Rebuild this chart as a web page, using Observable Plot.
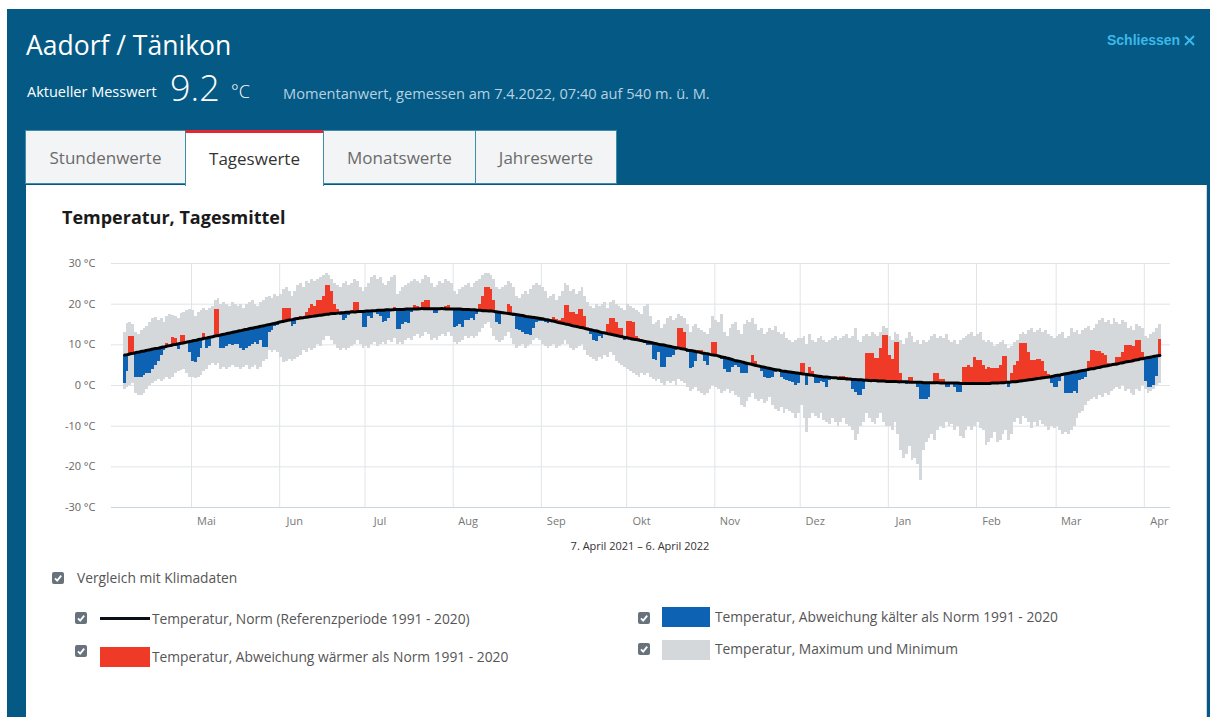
<!DOCTYPE html>
<html><head><meta charset="utf-8">
<script src="https://cdn.jsdelivr.net/npm/d3@7"></script>
<script src="https://cdn.jsdelivr.net/npm/@observablehq/plot@0.6"></script>
<style>
html,body{margin:0;padding:0}
body{width:1210px;height:717px;overflow:hidden;background:#fff;font-family:"Open Sans","Noto Sans",sans-serif;position:relative}
.abs{position:absolute;white-space:nowrap}
#frame{left:7px;top:9px;width:1203px;height:708px;background:#045a84}
#title{left:26px;top:27px;font-size:26.5px;color:#fff}
#lbl{left:27px;top:82px;font-size:14.5px;color:#fff}
#val{left:170px;top:63px;font-size:36px;font-weight:300;color:#fff}
#unit{left:231px;top:79px;font-size:18px;font-weight:300;color:#fff}
#info{left:283px;top:83px;font-size:14.6px;color:#b6d1e0}
#close{left:1107px;top:32px;font-size:14px;font-weight:bold;color:#3cb8ea;font-family:"Liberation Sans",Arial,sans-serif}
.tab{top:130px;height:54px;border:1px solid #3e8ea8;background:#f2f4f5;font-size:17px;color:#6b6b6b;text-align:center;line-height:54px;box-sizing:border-box}
#panel{left:26px;top:185px;width:1180px;height:532px;background:#fff;border-right:1px solid #cfd8de}
#ctitle{left:62px;top:205px;font-size:18px;font-weight:bold;color:#1a1a1a}
#chart{left:26px;top:250px}
#caption{left:540px;top:538px;width:200px;text-align:center;font-size:11px;color:#333}
.leg{font-size:13.8px;color:#555}
</style></head><body>
<div id="frame" class="abs"></div>
<div id="title" class="abs">Aadorf / Tänikon</div>
<div id="lbl" class="abs">Aktueller Messwert</div>
<div id="val" class="abs">9.2</div>
<div id="unit" class="abs">°C</div>
<div id="info" class="abs">Momentanwert, gemessen am 7.4.2022, 07:40 auf 540 m. ü. M.</div>
<div id="close" class="abs">Schliessen <svg width="11" height="11" style="vertical-align:-1px"><path d="M1 1L10 10M10 1L1 10" stroke="#3cb8ea" stroke-width="2"/></svg></div>
<div id="panel" class="abs"></div>
<div class="abs tab" style="left:25px;width:161px;">Stundenwerte</div>
<div class="abs tab" style="left:185px;width:139px;height:56px;background:#fff;border-bottom:none;border-top:3px solid #e3262f;color:#333;line-height:52px;">Tageswerte</div>
<div class="abs tab" style="left:323px;width:153px;">Monatswerte</div>
<div class="abs tab" style="left:475px;width:142px;">Jahreswerte</div>
<div id="ctitle" class="abs">Temperatur, Tagesmittel</div>
<div id="chart" class="abs"></div>
<div id="caption" class="abs">7. April 2021 – 6. April 2022</div>
<div id="legend"></div>
<script>
// ---------- data (°C), one value per day, 7 April 2021 – 6 April 2022 ----------
const firstDay = "2021-04-07";
const monthTicks = ["2021-05-01","2021-06-01","2021-07-01","2021-08-01","2021-09-01","2021-10-01","2021-11-01","2021-12-01","2022-01-01","2022-02-01","2022-03-01","2022-04-01"];
const monthLabels = ["Mai","Jun","Jul","Aug","Sep","Okt","Nov","Dez","Jan","Feb","Mar","Apr"];
const yTicks = [-30,-20,-10,0,10,20,30];

const dayMean = [
 0.6,3.5,12,12,2,2,2,2.5,3,3,4,5,6,7.5,8.5,10.3,9.5,11.7,11.5,8.8,12.4,12.2,10.5,8,
 6,5.7,7,9,12.7,9,9.5,12,18.6,18.6,9,9,9.5,10,9.8,10,10.2,9,8.6,9,9.6,10,10.5,10,11,9.4,9.4,13,13.5,14.5,14.8,
 15.2,19,19,19,14.5,15,16.5,17,16.6,18,19,20,19.5,21,21,22,24.5,24.6,23,20,18.8,17.2,16,16.5,17.3,18.5,20.5,20.5,18.2,14.3,
 14.3,17,16.5,18.5,17.5,17,15.6,15.8,16.5,18.6,19.2,13.7,13.8,15,15.5,15.3,18,19.7,19.5,18.8,20.5,21,20.8,18.5,17.6,17.8,18.5,19,19.5,19.6,18.9,
 14.2,14.5,15,14.2,16,16,16.5,16,17.5,20,22,24,24,23.5,21,15.5,15,17.5,18,20,19.5,17,13.8,13.5,13,12.5,12.5,12.3,14,15.5,15.8,
 15.8,15.6,15.3,16.2,16.6,16.2,16,16.4,19.7,19.7,18,18,17.5,18.8,18.8,17,14.3,12.5,11,10.9,12,11.5,12.5,15,16.4,16.4,15.5,13.9,13.9,11,
 15.8,15.8,15.5,12,11.5,10.5,10.5,9.8,9.8,6.5,6.1,8,4.5,4.5,7,7,7.5,8.5,13.9,13.9,13,8,4.1,4.5,6,8.6,8.5,6,4.9,7.5,10.6,
 10.6,7,6.5,4,3.3,3.3,4.5,5,4.4,2.9,2.9,3,5,7.4,6,4.6,3.5,2,1.8,1.6,2,3.2,3.8,2,1.5,1.2,1,0.8,0,0.5,
 5.5,5.5,0,4.5,3.5,0.4,0.4,1,0.8,-0.6,1.2,2,1.5,1.3,2.2,2.2,2.0,1.6,-1,-1.6,-2.5,-2.5,-1,7.8,7.8,7.8,6.6,6.6,9,12.3,12.3,
 7.5,6.5,10.6,10.6,3,1,0.3,2,2,0.8,-0.5,-3.5,-3.5,-3.5,-3,0.5,3,3,1.5,1.5,-0.4,-0.4,0.2,-0.4,-1.6,-1.6,4.5,4.5,5,4.5,7,
 6.1,6.1,5,4,4.5,4.3,4.3,4.3,5,7.1,7.1,-0.6,3,5,6,10.4,10.4,10.4,8,6.1,6.1,6.5,6.5,6,3.5,2.8,0.5,-0.4,
 -0.4,1,2.1,-2,-2,-2,-1.5,-2,1.2,1.5,2,6,8.6,8.6,8.4,8.3,7.8,7.5,5.5,5,5.5,7,7,8,9.8,9.8,9.8,9.5,11,11,8,
 1,-0.6,-0.6,0,2.1,11.4
];
const dayMax = [
 13,15.3,15.5,15,13,12.5,13.5,14,14.5,15.5,16.5,16.8,16,16.5,15.5,17,17.5,17.2,17,16.5,17.8,18,18.4,18.6,
 18.5,17,18,18.5,19,18.5,19,19.5,21,21.5,20,20.5,20,19.5,20.5,20,19.5,20,19,20,20.5,21,20,19.5,20.5,21,21.7,22,21.5,22.5,22,
 22.5,23.5,24,23,22,23,24.5,25,24,25.5,25,26,25.5,26,26.5,27,27.5,27,26,25,24.5,24,25,25.5,24.5,25,26,25.5,24,23,
 24,25,26.5,27,26,26.5,25,24.5,25.5,26.5,27,22.5,23,24,24.5,25,25.5,26,25.5,25,26,27,26.5,25,24,24.5,25.5,25,26,25.5,25,
 23,22.5,23.5,24,24.5,25,24,25,25.5,26,27,27.5,27.5,27,26,24,23.5,24,24.5,25.5,25,24,22,21.5,22.5,23,22.5,23.5,24.5,25,24.5,
 24,23,21.5,22,22.5,21,22,23,25,24.5,23,23.5,22.5,23,24,22,20.5,19.5,19,20,19.5,20,20.5,19,20.5,21,20,19.5,19,18.5,
 20,19.5,19,18.5,18,17.5,19.5,20,17,15,15.5,16,14,15,16.5,17,16,16.5,17.5,17,16.5,15,13,14.5,15,14,13.5,13,12.5,14,17,
 16,15.5,17.5,13,12,14,15,15.5,13.5,12.5,15,16,15.5,16.5,15,13.5,14,12.5,13,14,13.5,14.5,13,12.5,13,11.5,11,10.5,11,11.5,
 11.5,12,10,12.5,11,10.5,11.5,12,11,10.5,11,11.5,12,11,11.5,12,12.5,11.5,12,14,11,10.5,12,12.5,12,13,12.5,12,13,14.5,14,
 12,11,13,12.5,11,10,11.5,13,12,10.5,11,10,11,10.5,11,12,12.5,11.5,12,11.5,12.5,11,10.5,11,10,11,11.5,12,12.5,13,12,
 12.5,13,11,10.5,11,10.5,9.5,10,10.5,11,10,9,9.5,10.5,11,12.5,13,12.5,13.5,14,13,13.5,14,13,13.5,12.5,12,11.5,
 12,12.5,13,11.5,12,14,13,13.5,12.5,13.5,14,14.5,13.5,14,15,16,16.5,15.5,16,15,16.5,15.5,15,16,15.5,14,14.5,13.5,15,14.5,14,
 12,11.5,12.5,13,14,15
];
const dayMin = [
 -1,-0.5,0,0.5,-2,-2.5,-2.5,-2,-1,0,0.5,1,1.5,1,1.5,2,1.5,2,3,3.5,3.7,4,3,2,
 2,1.6,2,2.5,3.5,4,5,5.5,5,5.5,4,4.5,4,4.5,5,4.5,4.5,4,4.5,5,4,4.5,5,4,4.5,6,6.5,8.5,8,8.5,8,
 7,5.7,6,6.5,6,6.5,7,7.5,8.5,8,9,8.5,9,10,9.5,11,12,12,11,10,9,8.6,9,8.5,9,9.5,10,11,10,9,
 9.5,9,10,10.5,9.5,10,10.5,10,11,10.5,11.5,10,10.5,10,11,11.5,11,12,12.5,11.5,12,13,12.5,11,11.5,11,12,12.5,12,13,12,
 10.5,10,10.5,11,12,11.5,12,11.5,12,13,14,15,15.5,14,12,11,10.5,11,12,13,11.5,10,9,9.5,10,9,9.5,10,11,11.5,11,
 10,9.5,9,9.5,10,9,9.5,10,11,10,9,8.5,9,9.5,10,8.5,7.5,7,6.5,6,7,6.5,7.5,7,8,7.5,6,5.5,5,4.5,
 4,3.5,3,2.5,2,3,2.5,3,2,1.5,1,1.5,0.5,0,1,0.5,1,0,1.5,1,0.5,-0.5,-1.5,-1,-0.5,-1.5,-2,-2.5,-2,-1,0,
 -0.5,-1,-2,-1.5,-1,-2,-1.5,-2.5,-3,-5,-5.5,-4,-3,-2,-3.5,-4,-3.5,-4.5,-4,-3,-5,-6,-6.5,-5.5,-7,-6,-6.5,-7,-8,-7,
 -5,-8,-11.5,-8,-7,-7.5,-8,-7,-8.5,-9,-9.5,-8,-9,-10,-9,-8,-9.5,-10,-11,-13.5,-12,-10,-9,-7,-8,-9,-9.5,-8,-7,-9,-10,
 -10,-11,-9,-12,-16,-18,-17,-15,-18.5,-18,-19.5,-23.3,-16,-14,-13,-12,-13.5,-11,-10,-10.5,-9,-10,-9.5,-11,-10,-12.5,-13,-11,-10,-11,-10,
 -9,-10.5,-11,-14.7,-14,-13,-11.5,-14,-13.5,-12,-11,-13.5,-12,-9,-8,-9.5,-7.5,-8,-9,-10.5,-9,-10,-8.5,-9.5,-10,-11,-10,-10.5,
 -10,-11,-12,-11.5,-12,-11,-10,-8,-7,-6.5,-5,-4,-3.5,-3,-3.5,-2.5,-3,-2,-2.5,-1.5,-1,-0.5,-1,0,-1.5,-1,-2,-2.5,-1,-1.5,0,
 -1,-2,-1.5,-1,0,0.5
];
const dayNorm = [
 7.5,7.6,7.8,7.9,8.1,8.2,8.4,8.5,8.7,8.8,9.0,9.1,9.2,9.4,9.5,9.7,9.8,10.0,10.1,10.3,10.4,10.5,10.7,10.8,
 11.0,11.1,11.3,11.4,11.6,11.7,11.9,12.0,12.2,12.3,12.5,12.6,12.8,12.9,13.1,13.2,13.4,13.5,13.7,13.8,14.0,14.1,14.3,14.4,14.6,14.7,14.9,15.0,15.2,15.3,15.5,
 15.7,15.8,16.0,16.1,16.2,16.4,16.5,16.6,16.7,16.8,16.9,17.0,17.1,17.2,17.3,17.4,17.5,17.6,17.7,17.7,17.8,17.9,17.9,18.0,18.0,18.1,18.1,18.2,18.2,18.2,
 18.3,18.3,18.4,18.4,18.5,18.5,18.5,18.6,18.6,18.6,18.7,18.7,18.7,18.7,18.8,18.8,18.8,18.8,18.8,18.9,18.9,18.9,18.9,18.9,18.9,18.9,18.9,18.9,18.8,18.8,18.8,
 18.8,18.8,18.8,18.7,18.7,18.7,18.6,18.6,18.5,18.5,18.4,18.4,18.3,18.3,18.2,18.1,18.0,17.9,17.8,17.7,17.6,17.5,17.4,17.3,17.2,17.0,16.9,16.8,16.7,16.6,16.5,
 16.4,16.2,16.1,15.9,15.8,15.6,15.4,15.3,15.1,15.0,14.8,14.6,14.5,14.3,14.2,14.0,13.8,13.7,13.5,13.4,13.2,13.0,12.9,12.7,12.6,12.4,12.3,12.1,12.0,11.8,
 11.7,11.5,11.4,11.3,11.1,11.0,10.8,10.7,10.6,10.4,10.3,10.1,10.0,9.9,9.7,9.6,9.4,9.3,9.2,9.0,8.9,8.7,8.6,8.5,8.3,8.2,8.0,7.9,7.8,7.6,7.5,
 7.4,7.2,7.0,6.9,6.7,6.5,6.3,6.1,6.0,5.8,5.6,5.4,5.3,5.1,4.9,4.8,4.6,4.5,4.3,4.2,4.0,3.9,3.8,3.6,3.5,3.4,3.3,3.2,3.1,3.0,
 2.9,2.8,2.7,2.6,2.5,2.4,2.3,2.2,2.1,2.1,2.0,1.9,1.9,1.8,1.7,1.7,1.6,1.6,1.5,1.5,1.4,1.4,1.3,1.3,1.2,1.2,1.2,1.1,1.1,1.1,1.0,
 1.0,1.0,1.0,0.9,0.9,0.9,0.9,0.8,0.8,0.8,0.8,0.8,0.7,0.7,0.7,0.7,0.7,0.7,0.6,0.6,0.6,0.6,0.6,0.6,0.6,0.5,0.5,0.5,0.5,0.5,0.5,
 0.5,0.5,0.5,0.5,0.5,0.6,0.6,0.6,0.7,0.7,0.8,0.8,0.9,0.9,1.0,1.1,1.2,1.3,1.4,1.5,1.6,1.7,1.8,1.9,2.0,2.1,2.2,2.4,
 2.5,2.6,2.8,2.9,3.0,3.2,3.3,3.4,3.6,3.7,3.8,4.0,4.1,4.2,4.4,4.5,4.7,4.8,4.9,5.1,5.2,5.3,5.5,5.6,5.8,5.9,6.0,6.2,6.3,6.5,6.6,
 6.8,6.9,7.0,7.2,7.3,7.4
];

// ---------- build ----------
const start = new Date(firstDay + "T00:00:00Z");
const days = dayMean.map((m, i) => {
  const d0 = d3.utcDay.offset(start, i);
  return {date: d0, next: d3.utcDay.offset(start, i + 1), mid: d3.utcHour.offset(d0, 12),
          mean: m, max: dayMax[i], min: dayMin[i], norm: dayNorm[i]};
});
const monthDates = monthTicks.map(s => new Date(s + "T00:00:00Z"));
const labelOf = new Map(monthDates.map((d, i) => [+d, monthLabels[i]]));

const chart = Plot.plot({
  width: 1180, height: 310,
  marginTop: 13, marginBottom: 53, marginLeft: 85, marginRight: 36,
  style: {fontFamily: '"Open Sans", sans-serif', fontSize: "11px", color: "#666", background: "transparent"},
  x: {type: "utc", domain: [new Date(Date.UTC(2021, 3, 2, 21)), new Date(Date.UTC(2022, 3, 10, 5))]},
  y: {domain: [-30, 30]},
  marks: [
    Plot.ruleY(yTicks.filter(t => t > -30), {stroke: "#e0e4e7"}),
    Plot.ruleX(monthDates, {y1: -30, y2: 30, stroke: "#e0e4e7"}),
    Plot.ruleY([-30], {stroke: "#c6d6e3"}),
    Plot.rectY(days, {x1: "date", x2: "next", y1: "min", y2: "max", fill: "#d5d8db", shapeRendering: "crispEdges"}),
    Plot.rectY(days, {x1: "date", x2: "next", y1: "norm", y2: "mean",
      fill: d => d.mean >= d.norm ? "#ee3a26" : "#0d62b3", shapeRendering: "crispEdges"}),
    Plot.line(days, {x: "mid", y: "norm", stroke: "#000", strokeWidth: 3, curve: "natural"}),
    Plot.axisY(yTicks, {tickSize: 0, tickPadding: 16, tickFormat: d => d + " °C", fill: "#666", label: null}),
    Plot.axisX(monthDates, {tickSize: 0, tickPadding: 10, dx: 15, tickFormat: d => labelOf.get(+d), fill: "#777", label: null})
  ]
});
document.getElementById("chart").appendChild(chart);

// ---------- legend ----------
const check = '<svg width="12" height="12"><rect width="12" height="12" rx="2" fill="#67727c"/><path d="M3 6.3L5.2 8.6L9.2 3.6" stroke="#fff" stroke-width="1.8" fill="none"/></svg>';
const legendItems = [
  {cx: 52, cy: 572, label: "Vergleich mit Klimadaten", tx: 77, ty: 568},
  {cx: 75, cy: 612, label: "Temperatur, Norm (Referenzperiode 1991 - 2020)", tx: 152, ty: 609, sw: "line"},
  {cx: 75, cy: 645, label: "Temperatur, Abweichung wärmer als Norm 1991 - 2020", tx: 152, ty: 647, sw: "#ee3a26", sy: 647},
  {cx: 638, cy: 612, label: "Temperatur, Abweichung kälter als Norm 1991 - 2020", tx: 715, ty: 607, sw: "#0d62b3", sy: 607},
  {cx: 638, cy: 643, label: "Temperatur, Maximum und Minimum", tx: 715, ty: 639, sw: "#d5d8db", sy: 640}
];
const leg = document.getElementById("legend");
legendItems.forEach(it => {
  let h = `<div class="abs" style="left:${it.cx}px;top:${it.cy}px;line-height:0">${check}</div>`;
  if (it.sw === "line") h += `<div class="abs" style="left:100px;top:617px;width:50px;height:3px;background:#0b0f16"></div>`;
  else if (it.sw) h += `<div class="abs" style="left:${it.cx === 75 ? 100 : 662}px;top:${it.sy}px;width:${it.cx === 75 ? 50 : 48}px;height:20px;background:${it.sw}"></div>`;
  h += `<div class="abs leg" style="left:${it.tx}px;top:${it.ty}px">${it.label}</div>`;
  leg.insertAdjacentHTML("beforeend", h);
});
</script>
</body></html>
